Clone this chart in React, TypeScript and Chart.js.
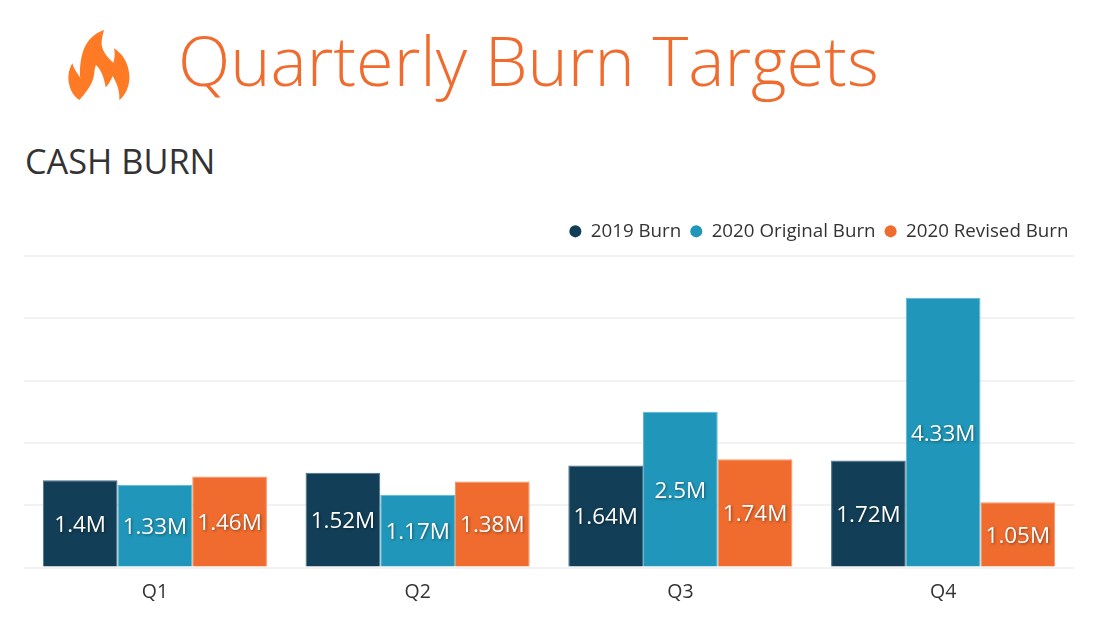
import React, { useEffect, useRef } from "react";
import { Chart, registerables } from "chart.js";

Chart.register(...registerables);

const categories = ["Q1", "Q2", "Q3", "Q4"];
const burn2019 = [1.4, 1.52, 1.64, 1.72];
const burn2020Original = [1.33, 1.17, 2.5, 4.33];
const burn2020Revised = [1.46, 1.38, 1.74, 1.05];

const FONT = '"Open Sans", sans-serif';

const valueLabels = {
  id: "valueLabels",
  afterDatasetsDraw(chart: any) {
    const { ctx } = chart;
    chart.data.datasets.forEach((ds: any, i: number) => {
      chart.getDatasetMeta(i).data.forEach((bar: any, j: number) => {
        const p = bar.getProps(["x", "y", "base"], true);
        ctx.save();
        ctx.font = `22.4px ${FONT}`;
        ctx.fillStyle = "#ffffff";
        ctx.textAlign = "center";
        ctx.textBaseline = "middle";
        ctx.shadowColor = "rgba(0,0,0,0.45)";
        ctx.shadowBlur = 3;
        ctx.shadowOffsetX = 1;
        ctx.shadowOffsetY = 1;
        ctx.fillText(`${ds.data[j]}M`, p.x, (p.y + p.base) / 2 + 2);
        ctx.restore();
      });
    });
  },
};

const legendBox = {
  id: "legendBox",
  beforeUpdate(chart: any) {
    const legend = chart.legend;
    if (legend && !Object.prototype.hasOwnProperty.call(legend, "fit")) {
      const baseFit = legend.fit;
      legend.fit = function (this: any) {
        baseFit.call(this);
        this.height = 43;
      };
    }
  },
  beforeDraw(chart: any) {
    if (chart.legend) chart.legend.right = chart.chartArea.right + 3;
  },
};

export default function App() {
  const ref = useRef<HTMLCanvasElement>(null);
  useEffect(() => {
    const chart = new Chart(ref.current!, {
      type: "bar",
      data: {
        labels: categories,
        datasets: [
          { label: "2019 Burn", data: burn2019, backgroundColor: "#123F57", borderColor: "#4A7086", borderWidth: 1 },
          { label: "2020 Original Burn", data: burn2020Original, backgroundColor: "#2097BA", borderColor: "#5DB5CF", borderWidth: 1 },
          { label: "2020 Revised Burn", data: burn2020Revised, backgroundColor: "#F06C2E", borderColor: "#F49468", borderWidth: 1 },
        ],
      },
      options: {
        responsive: false,
        animation: false,
        layout: { padding: { left: 23.5, right: 33.5, top: 213, bottom: 13 } },
        datasets: { bar: { barPercentage: 1, categoryPercentage: 0.853 } },
        plugins: {
          tooltip: { enabled: false },
          legend: {
            position: "top",
            align: "end",
            labels: {
              usePointStyle: true,
              pointStyle: "circle",
              boxWidth: 12,
              boxHeight: 8.5,
              padding: 9,
              color: "#333333",
              font: { family: FONT, size: 18.75 },
              generateLabels(c: any) {
                const items = (Chart.defaults as any).plugins.legend.labels.generateLabels(c);
                items.forEach((it: any) => {
                  it.strokeStyle = it.fillStyle;
                  it.lineWidth = 0;
                });
                return items;
              },
            },
          },
        },
        scales: {
          x: {
            grid: { display: false },
            border: { display: false },
            ticks: { color: "#333333", font: { family: FONT, size: 19.5 }, padding: 5, maxRotation: 0 },
          },
          y: {
            min: 0,
            max: 5,
            afterFit(s: any) { s.width = 0; },
            ticks: { stepSize: 1, display: false },
            border: { display: false },
            grid: { color: "#F2F2F2", lineWidth: 2, drawTicks: false },
          },
        },
      },
      plugins: [legendBox, valueLabels],
    } as any);
    return () => chart.destroy();
  }, []);

  return (
    <div style={{ position: "fixed", left: 0, top: 0, width: 1108, height: 622, background: "#fff", overflow: "hidden" }}>
      <svg viewBox="0 0 360 330" width="120" height="110" style={{ position: "absolute", left: 40, top: 10 }}>
        <path
          fill="#FF7A24"
          d="M192 60 C150 75 118 110 120 200 L122 205 C112 190 100 175 97 160 C85 180 82 205 88 225 C92 245 105 262 118 270 C135 250 158 225 162 195 C164 180 165 170 168 165 C182 178 192 200 197 232 C205 225 212 212 218 198 C228 215 240 240 238 270 C258 255 270 225 268 195 C265 155 245 130 222 115 C226 130 224 145 220 158 C205 145 190 130 185 105 C184 90 188 75 192 60 Z"
        />
      </svg>
      <div style={{ position: "absolute", left: 178, top: 11, fontFamily: FONT, fontWeight: 300, fontSize: 68.3, lineHeight: "98px", color: "#F06C2E", whiteSpace: "nowrap" }}>
        Quarterly Burn Targets
      </div>
      <div style={{ position: "absolute", left: 25, top: 139, fontFamily: FONT, fontSize: 34.3, lineHeight: "44px", color: "#333333", whiteSpace: "nowrap" }}>
        CASH BURN
      </div>
      <canvas ref={ref} width={1108} height={622} style={{ position: "absolute", left: 0, top: 0 }} />
    </div>
  );
}
